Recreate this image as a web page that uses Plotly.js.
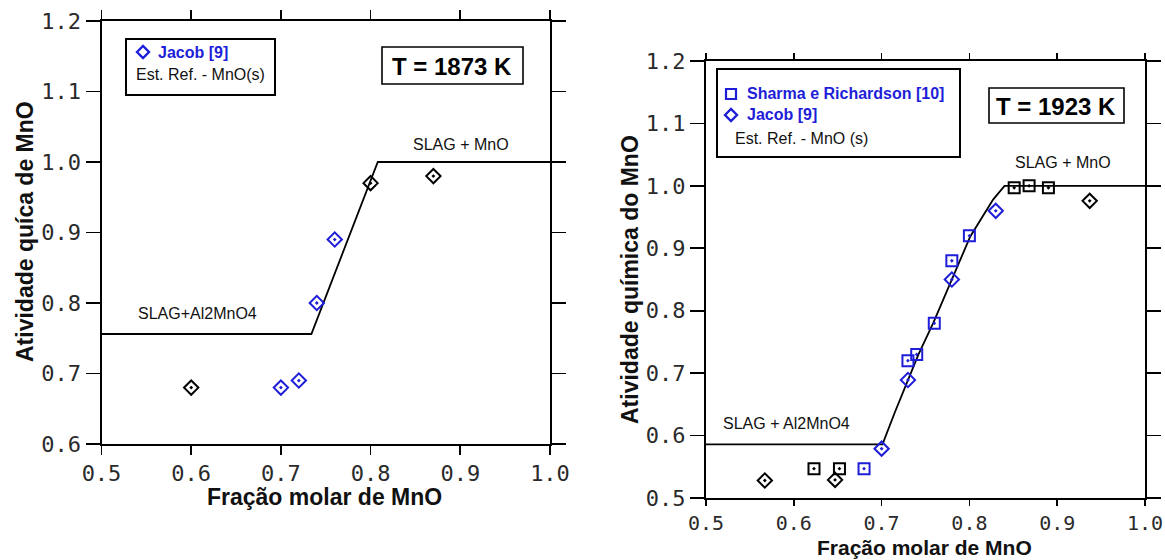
<!DOCTYPE html>
<html>
<head>
<meta charset="utf-8">
<script src="https://cdn.plot.ly/plotly-3.0.1.min.js"></script>
<style>html,body{margin:0;padding:0;background:#fff;}#chart{width:1165px;height:560px;}</style>
</head>
<body>
<div id="chart"></div>
<script>
// ---------- DATA ----------
// Left panel: T = 1873 K
const leftBlueX  = [0.70, 0.72, 0.74, 0.76];
const leftBlueY  = [0.68, 0.69, 0.80, 0.89];
const leftBlackX = [0.60, 0.80, 0.87];
const leftBlackY = [0.68, 0.97, 0.98];
const leftLineX  = [0.5, 0.734, 0.808, 1.0];
const leftLineY  = [0.756, 0.756, 1.0, 1.0];

// Right panel: T = 1923 K
const rightSqBlueX   = [0.68, 0.73, 0.74, 0.76, 0.78, 0.80];
const rightSqBlueY   = [0.547, 0.72, 0.73, 0.78, 0.88, 0.92];
const rightSqBlackX  = [0.623, 0.652, 0.851, 0.868, 0.890];
const rightSqBlackY  = [0.547, 0.547, 0.997, 1.0, 0.997];
const rightDiaBlueX  = [0.70, 0.73, 0.78, 0.83];
const rightDiaBlueY  = [0.579, 0.689, 0.85, 0.96];
const rightDiaBlackX = [0.567, 0.647, 0.937];
const rightDiaBlackY = [0.528, 0.529, 0.976];
const rightLineX = [0.5, 0.701, 0.715, 0.730, 0.742, 0.759, 0.780, 0.801, 0.827, 0.840, 1.0];
const rightLineY = [0.586, 0.586, 0.637, 0.690, 0.730, 0.781, 0.850, 0.919, 0.978, 1.0, 1.0];

const xRange = [0.5, 1.0];
const leftYRange = [0.6, 1.2];
const rightYRange = [0.5, 1.2];

const leftTitleY = 'Atividade quíca de MnO';
const rightTitleY = 'Atividade química do MnO';
const titleX = 'Fração molar de MnO';

// ---------- STYLE ----------
const W = 1165, H = 560;
const BLUE = '#1e1ed8';
const px = v => v / W;
const py = v => 1 - v / H;

function markerTrace(x, y, color, symbol, xa, ya) {
  return {
    x: x, y: y, xaxis: xa, yaxis: ya, type: 'scatter', mode: 'markers',
    marker: {symbol: symbol, size: 11, color: color, line: {color: color, width: 2}},
    cliponaxis: false, showlegend: false, hoverinfo: 'x+y'
  };
}
function lineTrace(x, y, xa, ya) {
  return {x: x, y: y, xaxis: xa, yaxis: ya, type: 'scatter', mode: 'lines',
          line: {color: '#000', width: 1.8}, showlegend: false, hoverinfo: 'skip'};
}

const data = [
  lineTrace(leftLineX, leftLineY, 'x', 'y'),
  markerTrace(leftBlackX, leftBlackY, '#000', 'diamond-open-dot', 'x', 'y'),
  markerTrace(leftBlueX, leftBlueY, BLUE, 'diamond-open-dot', 'x', 'y'),
  lineTrace(rightLineX, rightLineY, 'x2', 'y2'),
  markerTrace(rightSqBlackX, rightSqBlackY, '#000', 'square-open-dot', 'x2', 'y2'),
  markerTrace(rightDiaBlackX, rightDiaBlackY, '#000', 'diamond-open-dot', 'x2', 'y2'),
  markerTrace(rightSqBlueX, rightSqBlueY, BLUE, 'square-open-dot', 'x2', 'y2'),
  markerTrace(rightDiaBlueX, rightDiaBlueY, BLUE, 'diamond-open-dot', 'x2', 'y2')
];

const tickFont = {family: 'DejaVu Sans Mono', size: 22, color: '#2a2a2a'};
function axis(extra) {
  return Object.assign({
    showline: true, linecolor: '#000', linewidth: 2, mirror: 'ticks',
    ticks: 'outside', ticklen: 10, tickwidth: 1.6, tickcolor: '#000',
    showgrid: false, zeroline: false, tickfont: tickFont,
    tickmode: 'linear', dtick: 0.1, tickformat: '.1f', fixedrange: true
  }, extra);
}

const FAM = 'Liberation Sans, Arial, sans-serif';
const textFont = {family: FAM, size: 16, color: '#111'};
function ann(text, x, y, opts) {
  return Object.assign({
    text: text, x: px(x), y: py(y), xref: 'paper', yref: 'paper',
    showarrow: false, xanchor: 'center', yanchor: 'middle', font: textFont
  }, opts || {});
}
function rect(x0, y0, x1, y1, w) {
  return {type: 'rect', xref: 'paper', yref: 'paper',
          x0: px(x0), x1: px(x1), y0: py(y1), y1: py(y0),
          line: {color: '#000', width: w}, fillcolor: 'rgba(0,0,0,0)'};
}
function diamondShape(cx, cy, r, color) {
  const p = `M ${px(cx - r)},${py(cy)} L ${px(cx)},${py(cy - r)} L ${px(cx + r)},${py(cy)} L ${px(cx)},${py(cy + r)} Z`;
  return {type: 'path', xref: 'paper', yref: 'paper', path: p, line: {color: color, width: 2.4}};
}
function squareShape(cx, cy, r, color) {
  return {type: 'rect', xref: 'paper', yref: 'paper',
          x0: px(cx - r), x1: px(cx + r), y0: py(cy + r), y1: py(cy - r),
          line: {color: color, width: 2.2}};
}

const boldT = {family: FAM, size: 24, color: '#000', weight: 'bold'};
const axTitle = {family: FAM, size: 23, color: '#111', weight: 'bold'};
const axTitleR = {family: FAM, size: 21, color: '#111', weight: 'bold'};
const blueFont = {family: FAM, size: 16, color: BLUE, weight: 'bold'};

const layout = {
  width: W, height: H, margin: {l: 0, r: 0, t: 0, b: 0},
  paper_bgcolor: '#fff', plot_bgcolor: '#fff', showlegend: false,
  xaxis: axis({domain: [px(101.5), px(550)], range: xRange, anchor: 'y', tick0: 0.5, ticklen: 9}),
  yaxis: axis({domain: [py(444), py(21)], range: leftYRange, anchor: 'x', tick0: 0.6, ticklen: 14}),
  xaxis2: axis({domain: [px(706), px(1145)], range: xRange, anchor: 'y2', tick0: 0.5, ticklen: 6,
                tickfont: {family: 'DejaVu Sans Mono', size: 20, color: '#2a2a2a'}}),
  yaxis2: axis({domain: [py(498), py(61)], range: rightYRange, anchor: 'x2', tick0: 0.5, ticklen: 14}),
  shapes: [
    rect(126, 39, 275, 95, 2),
    diamondShape(143, 52, 6, BLUE),
    rect(382, 47, 523, 84, 1.6),
    rect(717, 69, 960, 157, 2),
    squareShape(731, 94, 5, BLUE),
    diamondShape(731, 115, 6, BLUE),
    rect(989, 88, 1124, 123, 1.6)
  ],
  annotations: [
    ann('Jacob [9]', 156, 52, {xanchor: 'left', font: blueFont}),
    ann('Est. Ref. - MnO(s)', 134, 75, {xanchor: 'left'}),
    ann('T = 1873 K', 452, 66, {font: boldT}),
    ann('SLAG + MnO', 461, 144),
    ann('SLAG+Al2MnO4', 197, 313),
    ann('Sharma e Richardson [10]', 745, 94, {xanchor: 'left', font: blueFont}),
    ann('Jacob [9]', 745, 115, {xanchor: 'left', font: blueFont}),
    ann('Est. Ref. - MnO (s)', 733, 138, {xanchor: 'left'}),
    ann('T = 1923 K', 1056, 106, {font: boldT}),
    ann('SLAG + MnO', 1063, 162),
    ann('SLAG + Al2MnO4', 786, 423),
    ann(leftTitleY, 25, 232, {textangle: -90, font: axTitle}),
    ann(titleX, 325, 497, {font: axTitle}),
    ann(rightTitleY, 630, 280, {textangle: -90, font: axTitle}),
    ann(titleX, 925, 547, {font: axTitleR})
  ]
};

Plotly.newPlot('chart', data, layout, {staticPlot: true, displayModeBar: false});
</script>
</body>
</html>
